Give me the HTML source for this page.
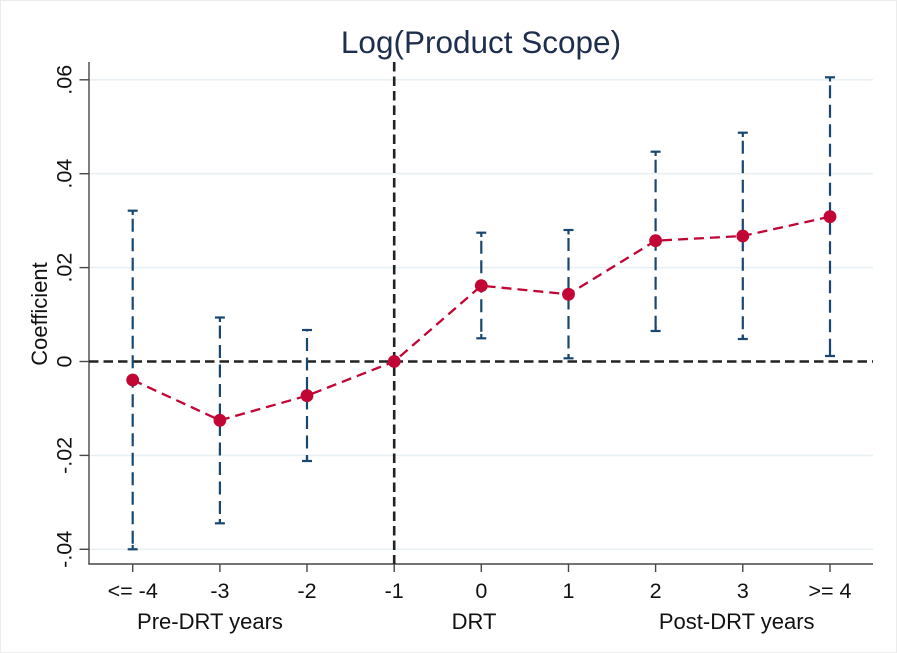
<!DOCTYPE html>
<html>
<head>
<meta charset="utf-8">
<style>
html,body{margin:0;padding:0;background:#fff;}
svg{display:block;}
text{font-family:"Liberation Sans",Arial,sans-serif;}
</style>
</head>
<body>
<svg width="897" height="653" viewBox="0 0 897 653" xmlns="http://www.w3.org/2000/svg">
<rect x="0" y="0" width="897" height="653" fill="#ffffff"/>
<rect x="0.5" y="0.5" width="896" height="652" fill="none" stroke="#ececec" stroke-width="1"/>

<!-- title -->
<text x="481" y="53" font-size="31.5" text-anchor="middle" fill="#1e2f4d">Log(Product Scope)</text>

<!-- gridlines -->
<g stroke="#e8f0f3" stroke-width="1.6">
<line x1="89" y1="79.8" x2="873" y2="79.8"/>
<line x1="89" y1="173.7" x2="873" y2="173.7"/>
<line x1="89" y1="267.6" x2="873" y2="267.6"/>
<line x1="89" y1="455.4" x2="873" y2="455.4"/>
<line x1="89" y1="549.3" x2="873" y2="549.3"/>
</g>

<!-- axes -->
<g stroke="#474747" stroke-width="1.4" fill="none">
<line x1="89" y1="62" x2="89" y2="564.5"/>
<line x1="88.3" y1="564" x2="873" y2="564"/>
<line x1="79.5" y1="79.8" x2="89" y2="79.8"/>
<line x1="79.5" y1="173.7" x2="89" y2="173.7"/>
<line x1="79.5" y1="267.6" x2="89" y2="267.6"/>
<line x1="79.5" y1="361.5" x2="89" y2="361.5"/>
<line x1="79.5" y1="455.4" x2="89" y2="455.4"/>
<line x1="79.5" y1="549.3" x2="89" y2="549.3"/>
<line x1="132.7" y1="564" x2="132.7" y2="572"/>
<line x1="219.9" y1="564" x2="219.9" y2="572"/>
<line x1="307" y1="564" x2="307" y2="572"/>
<line x1="394.2" y1="564" x2="394.2" y2="572"/>
<line x1="481.3" y1="564" x2="481.3" y2="572"/>
<line x1="568.5" y1="564" x2="568.5" y2="572"/>
<line x1="655.6" y1="564" x2="655.6" y2="572"/>
<line x1="742.8" y1="564" x2="742.8" y2="572"/>
<line x1="830" y1="564" x2="830" y2="572"/>
</g>

<!-- y tick labels (rotated) -->
<g font-size="21.5" fill="#111" text-anchor="middle">
<text transform="translate(71.7,79.8) rotate(-90)">.06</text>
<text transform="translate(71.7,173.7) rotate(-90)">.04</text>
<text transform="translate(71.7,267.6) rotate(-90)">.02</text>
<text transform="translate(71.7,361.5) rotate(-90)">0</text>
<text transform="translate(71.7,455.4) rotate(-90)">-.02</text>
<text transform="translate(71.7,549.3) rotate(-90)">-.04</text>
</g>
<text transform="translate(47,314) rotate(-90)" font-size="22" fill="#111" text-anchor="middle">Coefficient</text>

<!-- x tick labels -->
<g font-size="21.5" fill="#111" text-anchor="middle">
<text x="132.7" y="598">&lt;= -4</text>
<text x="219.9" y="598">-3</text>
<text x="307" y="598">-2</text>
<text x="394.2" y="598">-1</text>
<text x="481.3" y="598">0</text>
<text x="568.5" y="598">1</text>
<text x="655.6" y="598">2</text>
<text x="742.8" y="598">3</text>
<text x="830" y="598">&gt;= 4</text>
</g>
<g font-size="22" fill="#111" text-anchor="middle">
<text x="210" y="629">Pre-DRT years</text>
<text x="474" y="629">DRT</text>
<text x="736.7" y="629">Post-DRT years</text>
</g>

<!-- reference lines -->
<g stroke="#222" stroke-width="2.6" stroke-dasharray="9.5 5">
<line x1="89" y1="361.5" x2="873" y2="361.5"/>
<line x1="394.2" y1="62" x2="394.2" y2="564"/>
</g>

<!-- confidence intervals -->
<g stroke="#1a476f" stroke-width="2.2" fill="none">
<g stroke-dasharray="13 6.5" stroke-dashoffset="-8">
<line x1="132.7" y1="210.7" x2="132.7" y2="549.3"/>
<line x1="219.9" y1="317.5" x2="219.9" y2="523.3"/>
<line x1="307" y1="330" x2="307" y2="461"/>
<line x1="481.3" y1="232.7" x2="481.3" y2="338.3"/>
<line x1="568.5" y1="230" x2="568.5" y2="358.3"/>
<line x1="655.6" y1="151.7" x2="655.6" y2="331"/>
<line x1="742.8" y1="132.7" x2="742.8" y2="339"/>
<line x1="830" y1="77.3" x2="830" y2="356"/>
</g>
<!-- caps -->
<line x1="127.7" y1="210.7" x2="137.7" y2="210.7"/><line x1="132.7" y1="210.7" x2="132.7" y2="215"/>
<line x1="127.7" y1="549.3" x2="137.7" y2="549.3"/><line x1="132.7" y1="545" x2="132.7" y2="549.3"/>
<line x1="214.9" y1="317.5" x2="224.9" y2="317.5"/><line x1="219.9" y1="317.5" x2="219.9" y2="322"/>
<line x1="214.9" y1="523.3" x2="224.9" y2="523.3"/><line x1="219.9" y1="519" x2="219.9" y2="523.3"/>
<line x1="302" y1="330" x2="312" y2="330"/>
<line x1="302" y1="461" x2="312" y2="461"/><line x1="307" y1="456.5" x2="307" y2="461"/>
<line x1="476.3" y1="232.7" x2="486.3" y2="232.7"/><line x1="481.3" y1="232.7" x2="481.3" y2="237"/>
<line x1="476.3" y1="338.3" x2="486.3" y2="338.3"/><line x1="481.3" y1="334" x2="481.3" y2="338.3"/>
<line x1="563.5" y1="230" x2="573.5" y2="230"/><line x1="568.5" y1="230" x2="568.5" y2="234.5"/>
<line x1="563.5" y1="358.3" x2="573.5" y2="358.3"/><line x1="568.5" y1="354" x2="568.5" y2="358.3"/>
<line x1="650.6" y1="151.7" x2="660.6" y2="151.7"/><line x1="655.6" y1="151.7" x2="655.6" y2="156"/>
<line x1="650.6" y1="331" x2="660.6" y2="331"/><line x1="655.6" y1="326.5" x2="655.6" y2="331"/>
<line x1="737.8" y1="132.7" x2="747.8" y2="132.7"/><line x1="742.8" y1="132.7" x2="742.8" y2="137"/>
<line x1="737.8" y1="339" x2="747.8" y2="339"/><line x1="742.8" y1="334.5" x2="742.8" y2="339"/>
<line x1="825" y1="77.3" x2="835" y2="77.3"/><line x1="830" y1="77.3" x2="830" y2="81.5"/>
<line x1="825" y1="356" x2="835" y2="356"/><line x1="830" y1="351.5" x2="830" y2="356"/>
</g>

<!-- coefficient line -->
<polyline points="132.7,380 219.9,420.3 307,395.7 394.2,361.5 481.3,285.7 568.5,294.3 655.6,240.7 742.8,236 830,216.7"
 fill="none" stroke="#c10534" stroke-width="2.3" stroke-dasharray="10 6"/>

<!-- markers -->
<g fill="#c10534">
<circle cx="132.7" cy="380" r="6.4"/>
<circle cx="219.9" cy="420.3" r="6.4"/>
<circle cx="307" cy="395.7" r="6.4"/>
<circle cx="394.2" cy="361.5" r="6.4"/>
<circle cx="481.3" cy="285.7" r="6.4"/>
<circle cx="568.5" cy="294.3" r="6.4"/>
<circle cx="655.6" cy="240.7" r="6.4"/>
<circle cx="742.8" cy="236" r="6.4"/>
<circle cx="830" cy="216.7" r="6.4"/>
</g>
</svg>
</body>
</html>
